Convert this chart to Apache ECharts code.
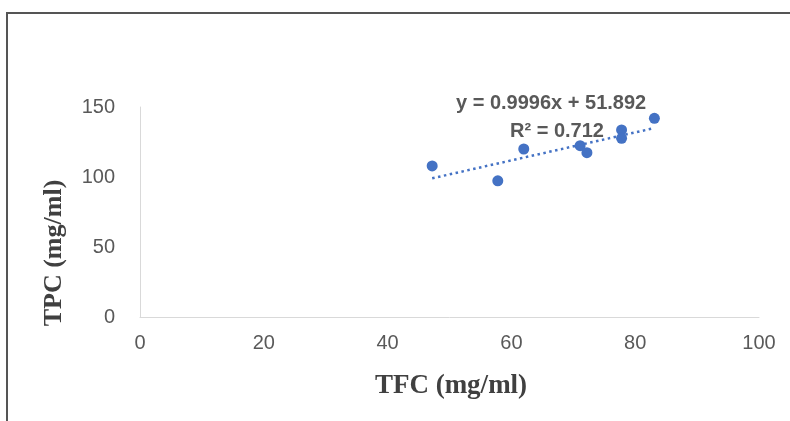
<!DOCTYPE html>
<html><head><meta charset="utf-8">
<script src="https://cdn.jsdelivr.net/npm/echarts@6/dist/echarts.min.js"></script>
<style>html,body{margin:0;padding:0;background:#fff}#c{width:790px;height:421px}</style>
</head><body><div id="c"></div>
<script>
const tfc = [47.2, 57.8, 62.0, 71.1, 72.2, 77.8, 77.8, 83.1];
const tpc = [107.9, 97.3, 120.0, 122.4, 117.4, 133.6, 127.6, 141.9];
const slope = 0.9996, intercept = 51.892;
const eqText = 'y = 0.9996x + 51.892';
const r2Text = 'R² = 0.712';
const xTitle = 'TFC (mg/ml)', yTitle = 'TPC (mg/ml)';

const pts = tfc.map((x, i) => [x, tpc[i]]);
const xmin = Math.min(...tfc), xmax = Math.max(...tfc);
const trend = [[xmin, slope * xmin + intercept], [xmax, slope * xmax + intercept]];

const chart = echarts.init(document.getElementById('c'));
const lbl = { color: '#595959', fontSize: 20, fontFamily: 'Liberation Sans, sans-serif' };
chart.setOption({
  animation: false,
  grid: { left: 140, right: 31, top: 107, bottom: 104 },
  xAxis: {
    type: 'value', min: 0, max: 100, interval: 20,
    axisLine: { show: true, lineStyle: { color: '#d9d9d9', width: 1 } },
    axisTick: { show: false }, splitLine: { show: false },
    axisLabel: Object.assign({ margin: 16 }, lbl)
  },
  yAxis: {
    type: 'value', min: 0, max: 150, interval: 50,
    axisLine: { show: true, lineStyle: { color: '#d9d9d9', width: 1 } },
    axisTick: { show: false }, splitLine: { show: false },
    axisLabel: Object.assign({ margin: 25 }, lbl)
  },
  series: [
    { type: 'line', data: trend, symbol: 'none', silent: true,
      lineStyle: { color: '#4472C4', width: 2.5, type: [2.5, 3.5] }, z: 1 },
    { type: 'scatter', data: pts, symbolSize: 11,
      itemStyle: { color: '#4472C4', opacity: 1 }, z: 2 }
  ],
  graphic: [
    { type: 'rect', shape: { x: 7, y: 13, width: 900, height: 600 },
      style: { fill: 'none', stroke: '#555', lineWidth: 2 }, silent: true },
    { type: 'text', x: 456, y: 103, style: { text: eqText, fill: '#595959',
      font: 'bold 20px Liberation Sans, sans-serif', textAlign: 'left', textVerticalAlign: 'middle' } },
    { type: 'text', x: 510, y: 131, style: { text: r2Text, fill: '#595959',
      font: 'bold 20px Liberation Sans, sans-serif', textAlign: 'left', textVerticalAlign: 'middle' } },
    { type: 'text', x: 451, y: 386, style: { text: xTitle, fill: '#404040',
      font: 'bold 27px Liberation Serif, serif', textAlign: 'center', textVerticalAlign: 'middle' } },
    { type: 'text', x: 54, y: 253, rotation: Math.PI / 2, style: { text: yTitle, fill: '#404040',
      font: 'bold 26px Liberation Serif, serif', textAlign: 'center', textVerticalAlign: 'middle' } }
  ]
});
</script></body></html>
